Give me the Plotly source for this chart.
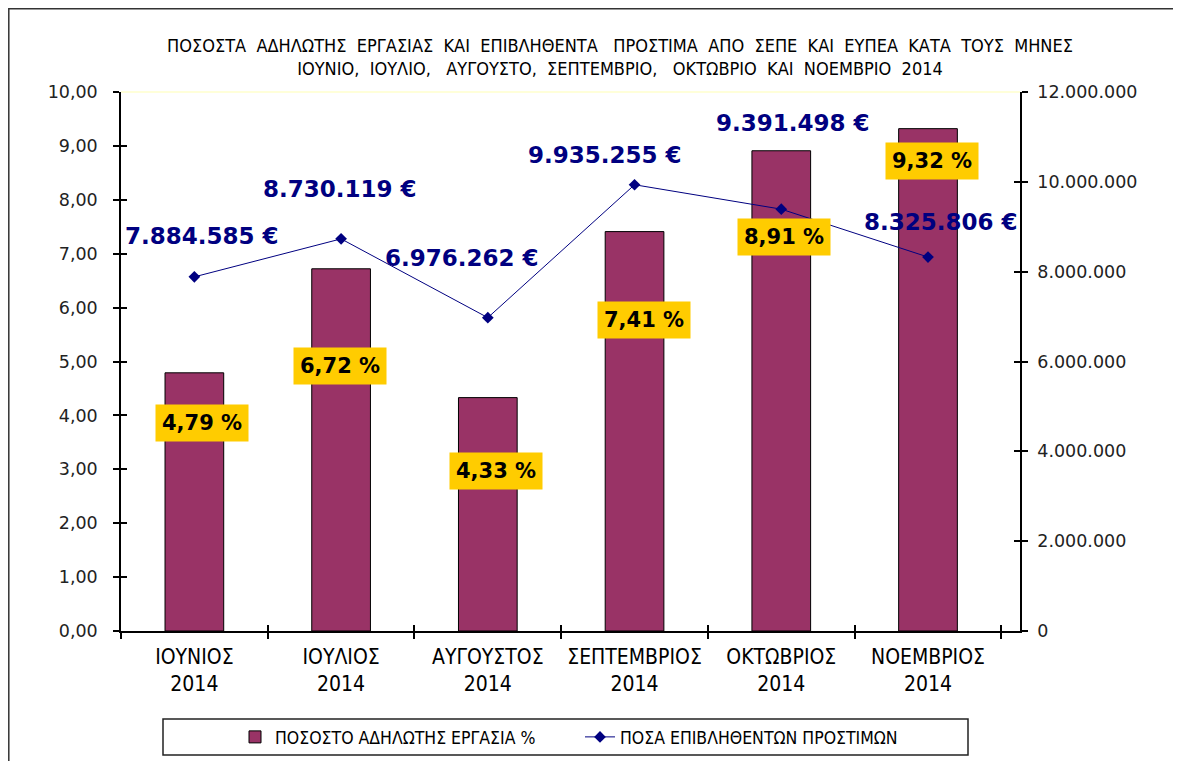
import plotly.graph_objects as go

months = ["ΙΟΥΝΙΟΣ<br>2014", "ΙΟΥΛΙΟΣ<br>2014", "ΑΥΓΟΥΣΤΟΣ<br>2014",
          "ΣΕΠΤΕΜΒΡΙΟΣ<br>2014", "ΟΚΤΩΒΡΙΟΣ<br>2014", "ΝΟΕΜΒΡΙΟΣ<br>2014"]
undeclared_pct = [4.79, 6.72, 4.33, 7.41, 8.91, 9.32]
fines_eur = [7884585, 8730119, 6976262, 9935255, 9391498, 8325806]

bar_name = "ΠΟΣΟΣΤΟ ΑΔΗΛΩΤΗΣ ΕΡΓΑΣΙΑ %"
line_name = "ΠΟΣΑ ΕΠΙΒΛΗΘΕΝΤΩΝ ΠΡΟΣΤΙΜΩΝ"
title_lines = ["ΠΟΣΟΣΤΑ  ΑΔΗΛΩΤΗΣ  ΕΡΓΑΣΙΑΣ  ΚΑΙ  ΕΠΙΒΛΗΘΕΝΤΑ   ΠΡΟΣΤΙΜΑ  ΑΠΟ  ΣΕΠΕ  ΚΑΙ  ΕΥΠΕΑ  ΚΑΤΑ  ΤΟΥΣ  ΜΗΝΕΣ",
               "ΙΟΥΝΙΟ,  ΙΟΥΛΙΟ,   ΑΥΓΟΥΣΤΟ,  ΣΕΠΤΕΜΒΡΙΟ,   ΟΚΤΩΒΡΙΟ  ΚΑΙ  ΝΟΕΜΒΡΙΟ  2014"]

# label offsets (pixels) relative to the mark
bar_label_dx = [8, -1, 8, 9, 3, 4]
bar_label_dy = [-50, -97, -73, -88, -86, -32]
line_label_dx = [8, -1, -26, -30, 12, 13]
line_label_dy = [41, 50, 60, 30, 86, 35]

BAR_COLOR = "#993366"
LINE_COLOR = "#000080"
NARROW = "Liberation Sans Narrow, DejaVu Sans Condensed, Arial Narrow, sans-serif"
VERD = "DejaVu Sans, Verdana, sans-serif"

W, H = 1165, 753          # page has an 8px body margin
PL, PT, PR, PB = 113, 84, 1012, 623   # plot area in figure pixels
PW, PH = PR - PL, PB - PT


def px_x(x):  # screenshot x -> paper
    return (x - 8 - PL) / PW


def px_y(y):  # screenshot y -> paper
    return (PB - (y - 8)) / PH


def fmt_pct(v):
    return f"{v:.2f}".replace(".", ",") + " %"


def fmt_eur(v):
    return f"{v:,d}".replace(",", ".") + " €"


fig = go.Figure()
fig.add_trace(go.Bar(x=months, y=undeclared_pct, name=bar_name, width=0.4,
                     marker=dict(color=BAR_COLOR, line=dict(color="black", width=1)),
                     yaxis="y"))
fig.add_trace(go.Scatter(x=months, y=fines_eur, name=line_name, mode="lines+markers",
                         line=dict(color=LINE_COLOR, width=1),
                         marker=dict(symbol="diamond", size=9, color=LINE_COLOR),
                         yaxis="y2"))
# invisible helpers to draw the inner half of the crossing ticks
fig.add_trace(go.Scatter(x=months, y=undeclared_pct, xaxis="x2", yaxis="y3", mode="markers",
                         marker=dict(opacity=0), hoverinfo="skip", showlegend=False))
fig.add_trace(go.Scatter(x=months, y=fines_eur, xaxis="x2", yaxis="y4", mode="markers",
                         marker=dict(opacity=0), hoverinfo="skip", showlegend=False))

annotations = []
for m, v, dx, dy in zip(months, undeclared_pct, bar_label_dx, bar_label_dy):
    annotations.append(dict(x=m, y=v, xref="x", yref="y", text=fmt_pct(v), showarrow=False,
                            xshift=dx, yshift=dy, bgcolor="#FFCC00", borderpad=6,
                            font=dict(family=VERD, size=21, color="black", weight="bold")))
for m, v, dx, dy in zip(months, fines_eur, line_label_dx, line_label_dy):
    annotations.append(dict(x=m, y=v, xref="x", yref="y2", text=fmt_eur(v), showarrow=False,
                            xshift=dx, yshift=dy,
                            font=dict(family=VERD, size=23, color=LINE_COLOR, weight="bold")))

bx0, by0 = px_x(8.8), px_y(8.8)
bx1, by1 = px_x(8 + W), px_y(8 + H)
border_path = f"M {bx0},{by1} L {bx0},{by0} L {bx1},{by0}"

shapes = [
    # outer chart border (top and left edges visible)
    dict(type="path", xref="paper", yref="paper", path=border_path,
         fillcolor="rgba(0,0,0,0)", line=dict(color="#333333", width=1.5)),
    # legend box
    dict(type="rect", xref="paper", yref="paper", x0=px_x(163), x1=px_x(968),
         y0=px_y(755), y1=px_y(719), line=dict(color="#222222", width=1.5)),
    # top plot-area edge
    dict(type="line", xref="paper", yref="paper", x0=0, x1=1, y0=1, y1=1,
         line=dict(color="#FFFFCC", width=1.5)),
]

axis_common = dict(showgrid=False, zeroline=False, linecolor="black", linewidth=1.5,
                   tickcolor="black", tickwidth=1.5, ticklen=6)

fig.update_layout(
    width=W, height=H,
    margin=dict(l=PL, r=W - PR, t=PT, b=H - PB, pad=0, autoexpand=False),
    paper_bgcolor="white", plot_bgcolor="white",
    separators=",.",
    title=dict(text=title_lines[0] + "<br>" + title_lines[1], x=(620 - 8) / W, xanchor="center",
               xref="container", yref="container", y=1 - (52 - 8) / H, yanchor="middle",
               font=dict(family=NARROW, size=18, color="black")),
    xaxis=dict(**axis_common, type="category", categoryarray=months, ticks="outside",
               tickson="boundaries", showline=True,
               tickfont=dict(family=NARROW, size=21, color="black"), ticklabelstandoff=6),
    xaxis2=dict(overlaying="x", matches="x", anchor="y", side="bottom", type="category",
                categoryarray=months, ticks="inside", tickson="boundaries", ticklen=6,
                tickcolor="black", tickwidth=1.5, showticklabels=False, showline=False,
                showgrid=False, zeroline=False),
    yaxis=dict(**axis_common, range=[0, 10], dtick=1, tickformat=".2f", ticks="outside",
               showline=True, ticklabelstandoff=12,
               tickfont=dict(family=VERD, size=17.5, color="#222222")),
    yaxis2=dict(**axis_common, overlaying="y", side="right", range=[0, 12000000],
                dtick=2000000, tickformat=",d", ticks="outside", showline=True,
                ticklabelstandoff=6,
                tickfont=dict(family=VERD, size=17.5, color="#222222")),
    yaxis3=dict(overlaying="y", matches="y", side="left", anchor="x2", ticks="inside",
                ticklen=6, tickcolor="black", tickwidth=1.5, dtick=1, showticklabels=False,
                showline=False, showgrid=False, zeroline=False),
    yaxis4=dict(overlaying="y", matches="y2", side="right", anchor="x2", ticks="inside",
                ticklen=6, tickcolor="black", tickwidth=1.5, dtick=2000000,
                showticklabels=False, showline=False, showgrid=False, zeroline=False),
    legend=dict(orientation="h", x=px_x(235), xanchor="left",
                y=px_y(737), yanchor="middle", entrywidth=300,
                bgcolor="rgba(0,0,0,0)",
                font=dict(family=NARROW, size=17.5, color="black")),
    annotations=annotations,
    shapes=shapes,
    showlegend=True,
)

fig.write_html("out.html")
